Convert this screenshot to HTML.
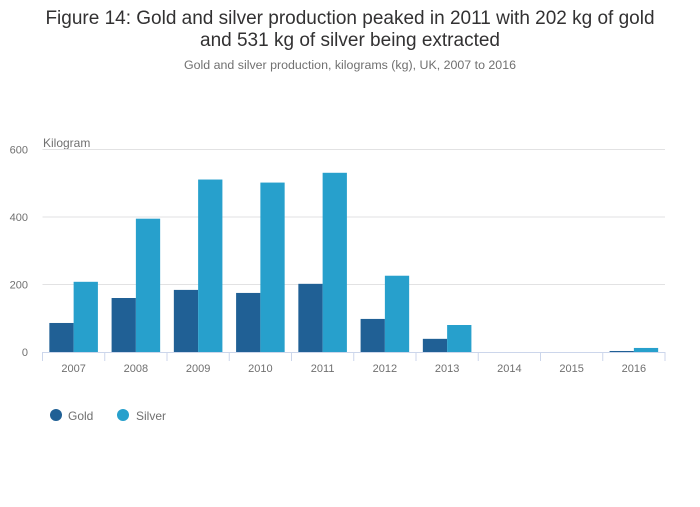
<!DOCTYPE html>
<html><head><meta charset="utf-8">
<style>
body{margin:0;background:#fff;font-family:"Liberation Sans",sans-serif;}
svg text{font-family:"Liberation Sans",sans-serif;}
</style></head>
<body>
<svg id="chart" width="700" height="502">
<text x="350" y="24" text-anchor="middle" font-size="19" fill="#323132">Figure 14: Gold and silver production peaked in 2011 with 202 kg of gold</text>
<text x="350" y="46" text-anchor="middle" font-size="19" fill="#323132">and 531 kg of silver being extracted</text>
<text x="350" y="69" text-anchor="middle" font-size="12.4" fill="#707070">Gold and silver production, kilograms (kg), UK, 2007 to 2016</text>
<text x="43" y="147" font-size="12" fill="#707070">Kilogram</text>
<g id="grid"></g><g id="bars"></g><g id="axis"></g>
<g>
<circle cx="56" cy="415" r="6" fill="#206095"/>
<text x="68" y="420" font-size="12" fill="#707070">Gold</text>
<circle cx="123" cy="415" r="6" fill="#27a0cc"/>
<text x="136" y="420" font-size="12" fill="#707070">Silver</text>
</g>
</svg>
<script>
const categories=["2007","2008","2009","2010","2011","2012","2013","2014","2015","2016"];
const gold=[86,160,184,175,202,98,39,0,0,3];
const silver=[208,395,511,502,531,226,80,0,0,12];
const yTicks=[0,200,400,600];
const NS="http://www.w3.org/2000/svg";
const x0=42.5,x1=665,y0=352,yTop=149.5,yMax=600;
const bw=(x1-x0)/categories.length;
const y=v=>y0-(v/yMax)*(y0-yTop);
function mk(tag,attrs,parent){const e=document.createElementNS(NS,tag);for(const k in attrs)e.setAttribute(k,attrs[k]);document.getElementById(parent).appendChild(e);return e;}
yTicks.forEach(t=>{
 if(t>0){const l=mk('line',{x1:x0,x2:x1,y1:y(t),y2:y(t),stroke:'#e2e2e3','stroke-width':1},'grid');
 
 }
 const tx=mk('text',{x:28,y:y(t)+4,'text-anchor':'end','font-size':11,fill:'#707070'},'grid');
 tx.textContent=t;
 
 
});
const pad=bw*0.11,w=(bw-2*pad)/2;
categories.forEach((c,i)=>{
 const cx=x0+i*bw;
 const g=mk('rect',{x:cx+pad,y:y(gold[i]),width:w,height:y0-y(gold[i]),fill:'#206095'},'bars');
 
 
 const s=mk('rect',{x:cx+pad+w,y:y(silver[i]),width:w,height:y0-y(silver[i]),fill:'#27a0cc'},'bars');
 
 
 const lb=mk('text',{x:cx+bw/2,y:372,'text-anchor':'middle','font-size':11,fill:'#707070'},'axis');
 lb.textContent=c;
 
 
});
for(let i=0;i<=categories.length;i++){
 const tk=mk('line',{x1:x0+i*bw,x2:x0+i*bw,y1:y0,y2:y0+9,stroke:'#ccd6eb','stroke-width':1},'axis');
 
 
}
const ax=mk('line',{x1:x0,x2:x1,y1:y0+0.5,y2:y0+0.5,stroke:'#ccd6eb','stroke-width':1},'axis');


</script>
</body></html>
